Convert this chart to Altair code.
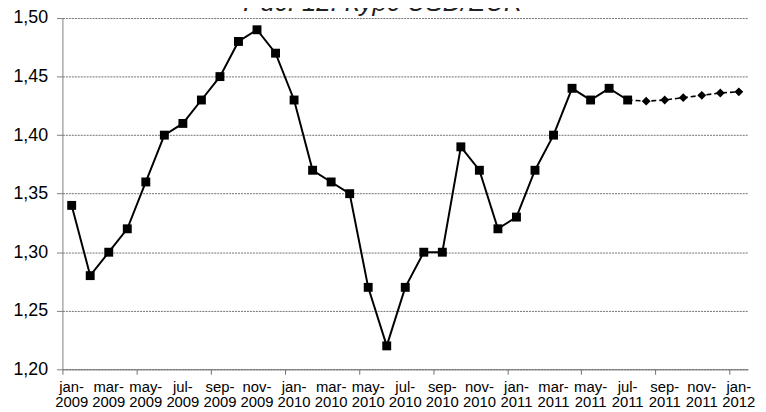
import altair as alt
import pandas as pd

# Categories (months)
month_abbr = ["jan", "feb", "mar", "apr", "may", "jun",
              "jul", "aug", "sep", "oct", "nov", "dec"]
years = ["2009", "2010", "2011"]
months = [f"{m}-{y}" for y in years for m in month_abbr] + ["jan-2012"]

# Actual USD/EUR rate, jan-2009 .. jul-2011
actual = [1.34, 1.28, 1.30, 1.32, 1.36, 1.40, 1.41, 1.43, 1.45, 1.48, 1.49, 1.47,
          1.43, 1.37, 1.36, 1.35, 1.27, 1.22, 1.27, 1.30, 1.30, 1.39, 1.37, 1.32,
          1.33, 1.37, 1.40, 1.44, 1.43, 1.44, 1.43]
# Forecast, aug-2011 .. jan-2012
forecast = [1.429, 1.430, 1.432, 1.434, 1.436, 1.437]

y_ticks = [1.20, 1.25, 1.30, 1.35, 1.40, 1.45, 1.50]
title_text = "Рис. 12. Курс USD/EUR"

n_act = len(actual)
n_all = len(months)
df_act = pd.DataFrame({"idx": list(range(n_act)), "value": actual})
df_fc_pts = pd.DataFrame({"idx": list(range(n_act, n_act + len(forecast))), "value": forecast})
df_fc_line = pd.DataFrame({"idx": list(range(n_act - 1, n_act + len(forecast))),
                           "value": [actual[-1]] + forecast})
label_idx = [i for i in range(n_all) if i % 2 == 0]
df_labels = pd.DataFrame({"idx": label_idx,
                          "label": [months[i].replace("-", "-\n") for i in label_idx]})

FONT = "Liberation Sans"
tick_vals = [i - 0.5 for i in range(n_all + 1)]

x_scale = alt.Scale(domain=[-0.5, n_all - 0.5], nice=False, zero=False)
x_enc = alt.X(
    "idx:Q",
    scale=x_scale,
    axis=alt.Axis(
        title=None,
        values=tick_vals,
        labels=False,
        ticks=True,
        domain=True,
        grid=False,
        domainColor="#707070",
        tickColor="#707070",
        tickWidth=1,
        tickSize=5,
    ),
)

y_enc = alt.Y(
    "value:Q",
    scale=alt.Scale(domain=[1.2, 1.5], nice=False, zero=False),
    axis=alt.Axis(
        title=None,
        values=y_ticks,
        format=".2f",
        labelExpr="replace(datum.label, '.', ',')",
        grid=True,
        gridColor="#707070",
        gridDash=[2, 1],
        domainColor="#808080",
        tickColor="#808080",
        tickSize=6,
        labelFont=FONT,
        labelFontSize=18,
        labelColor="black",
        labelPadding=9,
    ),
)

line_act = alt.Chart(df_act).mark_line(color="black", strokeWidth=2).encode(x=x_enc, y=y_enc)
pts_act = alt.Chart(df_act).mark_square(size=81, color="black", opacity=1).encode(x=x_enc, y=y_enc)
line_fc = alt.Chart(df_fc_line).mark_line(
    color="black", strokeWidth=1.6, strokeDash=[5, 3]).encode(x=x_enc, y=y_enc)
pts_fc = alt.Chart(df_fc_pts).mark_point(
    shape="diamond", filled=True, size=80, color="black", opacity=1).encode(x=x_enc, y=y_enc)

labels = alt.Chart(df_labels).mark_text(
    font=FONT, fontSize=15, color="black", lineBreak="\n", lineHeight=15,
    align="center", baseline="top"
).encode(x=alt.X("idx:Q", scale=x_scale), y=alt.value(366), text="label:N")

title = alt.Chart(pd.DataFrame({"t": [title_text]})).mark_text(
    font=FONT, fontSize=26, fontStyle="italic", color="#222222",
    align="center", baseline="alphabetic"
).encode(text="t:N", x=alt.value(324), y=alt.value(-7))

chart = alt.layer(line_act, line_fc, pts_act, pts_fc, labels, title).properties(
    width=693,
    height=355,
    autosize=alt.AutoSizeParams(type="none"),
    padding={"left": 55, "top": 8, "right": 10, "bottom": 41},
    background="white",
).configure_view(stroke=None)

chart.save("out.html", embed_options={"renderer": "svg", "actions": False})
